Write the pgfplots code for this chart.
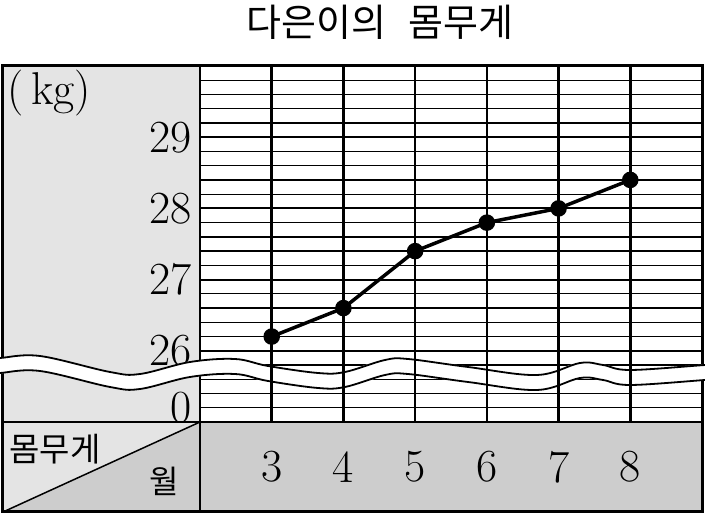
\documentclass[border=0pt]{standalone}
\usepackage{fontspec}
\usepackage{pgfplots}
\pgfplotsset{compat=1.18}
\newfontfamily\kr{Noto Sans CJK KR}
\definecolor{lightg}{HTML}{E4E4E4}
\definecolor{darkg}{HTML}{CDCDCD}
\begin{document}
\begin{tikzpicture}
% gray cells of the table
\fill[lightg] (-197pt,0pt) rectangle (0pt,356pt);
\fill[lightg] (-197pt,0pt) -- (0pt,0pt) -- (-197pt,-90pt) -- cycle;
\fill[darkg] (-197pt,-90pt) -- (0pt,0pt) -- (0pt,-90pt) -- cycle;
\fill[darkg] (0pt,-90pt) rectangle (502pt,0pt);
\begin{axis}[
  at={(0pt,0pt)}, anchor=south west,
  scale only axis, width=502pt, height=356pt,
  xmin=2, xmax=9, ymin=25, ymax=30,
  xtick={3,4,5,6,7,8},
  ytick={26,27,28,29},
  extra y ticks={25.2}, extra y tick labels={0},
  extra y tick style={grid=none},
  minor ytick={25.2,25.4,...,29.8},
  ymajorgrids, yminorgrids,
  major grid style={black, line width=2pt},
  minor grid style={black, line width=1.3pt},
  major tick length=0pt, minor tick length=0pt,
  axis line style={line width=2.5pt},
  /pgf/number format/assume math mode=true,
  ticklabel style={font=\fontsize{46}{52}\selectfont, inner sep=0pt},
  yticklabel style={anchor=east, xshift=-8pt},
  xticklabel style={anchor=center, yshift=-45pt},
]
\addplot[black, line width=3.5pt, mark=*, mark size=6.5pt]
  coordinates {(3,26.2)(4,26.6)(5,27.4)(6,27.8)(7,28.0)(8,28.4)};
\end{axis}
% frame of the table
\draw[line width=3pt] (-197pt,-90pt) rectangle (502pt,356pt);
\draw[line width=2.5pt] (0pt,-90pt) -- (0pt,356pt);
\draw[line width=2.5pt] (-197pt,0pt) -- (502pt,0pt);
\draw[line width=1.5pt] (-197pt,-90pt) -- (0pt,0pt);
% wavy break
\begin{scope}[shift={(-200pt,422pt)},x=1pt,y=-1pt]
\def\wave{(-10,366) (0,365.5) (40,363.5) (110,379.5) (140,381.5) (190,369.5) (235,366.5) (268,373.5) (318,380.5) (345,379.5) (385,367.5) (408,366.5) (468,374.5) (537,382.5) (580,370.5) (603,372.5) (630,377.5) (705,372.5) (715,372)}
\draw[white,line width=16pt] plot[smooth,tension=0.6] coordinates {\wave};
\draw[black,line width=1.8pt,yshift=7.5pt] plot[smooth,tension=0.6] coordinates {\wave};
\draw[black,line width=1.8pt,yshift=-7.5pt] plot[smooth,tension=0.6] coordinates {\wave};
\end{scope}
% month lines
\foreach \i in {1,...,6} \draw[line width=2.5pt] ({\i*71.714pt},0pt) -- ({\i*71.714pt},356pt);
% texts
\node[anchor=west, inner sep=0pt, font=\fontsize{46}{52}\selectfont] at (-193pt,329pt) {(\,kg)};
\node[font=\kr\fontsize{38}{44}\selectfont] at (180pt,400pt) {다은이의\hspace{0.6em}몸무게};
\node[font=\kr\fontsize{33}{38}\selectfont] at (-145pt,-27pt) {몸무게};
\node[font=\kr\fontsize{32}{38}\selectfont] at (-36pt,-59pt) {월};
\pgfresetboundingbox
\path (-200pt,-94pt) rectangle (505pt,422pt);
\end{tikzpicture}
\end{document}
